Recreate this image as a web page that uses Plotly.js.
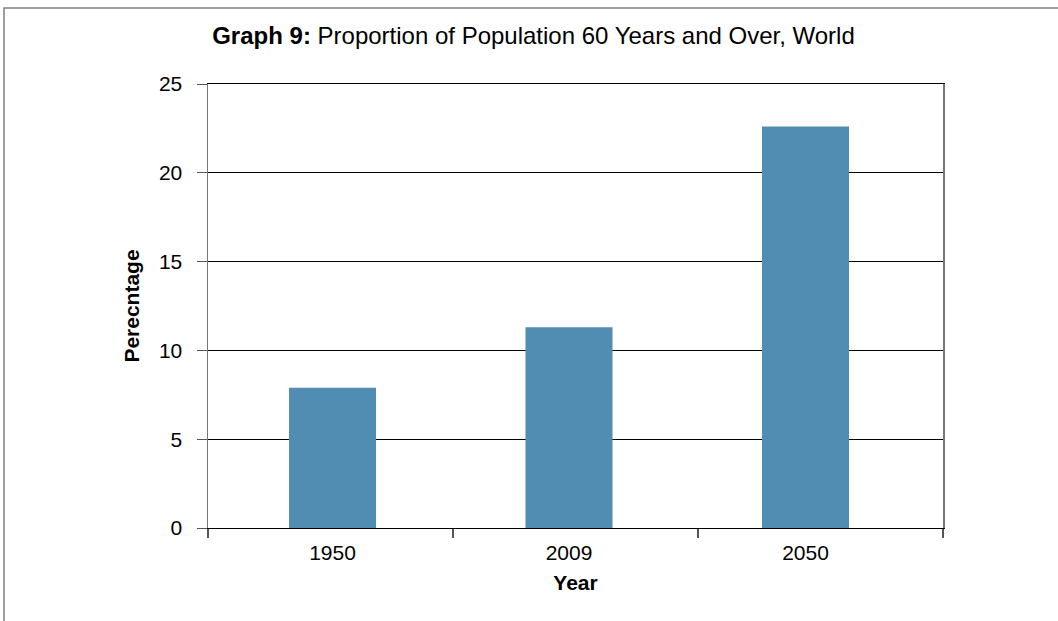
<!DOCTYPE html>
<html>
<head>
<meta charset="utf-8">
<script src="https://cdn.plot.ly/plotly-3.0.1.min.js"></script>
<style>
  html, body { margin: 0; padding: 0; background: #fff; }
  #chart { width: 1058px; height: 621px; }
</style>
</head>
<body>
<div id="chart"></div>
<script>
const years = ['1950', '2009', '2050'];
const percentages = [7.9, 11.3, 22.6];
const yTicks = [0, 5, 10, 15, 20, 25];

const font = 'Arial, "Liberation Sans", sans-serif';

const bars = {
  type: 'bar',
  x: years,
  y: percentages,
  width: 0.368,
  marker: { color: '#518db3', line: { width: 0 } },
  hoverinfo: 'x+y',
  xaxis: 'x',
  yaxis: 'y'
};

// invisible copy on a second category axis that carries the boundary tick marks
const tickCarrier = {
  type: 'bar',
  x: years,
  y: percentages,
  marker: { color: 'rgba(0,0,0,0)' },
  hoverinfo: 'skip',
  xaxis: 'x2',
  yaxis: 'y'
};

const layout = {
  width: 1058,
  height: 621,
  margin: { l: 208, r: 115, t: 84, b: 93, pad: 0 },
  paper_bgcolor: '#ffffff',
  plot_bgcolor: '#ffffff',
  font: { family: font, size: 21, color: '#000' },
  showlegend: false,
  barmode: 'overlay',
  title: {
    text: '<b>Graph 9:</b> Proportion of Population 60 Years and Over, World',
    font: { family: font, size: 24, color: '#000' },
    xref: 'paper',
    x: (533.5 - 208) / 735,
    xanchor: 'center',
    yref: 'container',
    y: 1 - 36 / 621,
    yanchor: 'middle'
  },
  xaxis: {
    type: 'category',
    range: [-0.5264, 2.5814],
    showgrid: false,
    showline: true,
    linecolor: '#000',
    linewidth: 1,
    mirror: true,
    ticks: '',
    ticklabelstandoff: 6,
    tickfont: { family: font, size: 21, color: '#000' },
    title: { text: '<b>Year</b>', font: { family: font, size: 21, color: '#000' }, standoff: 12 }
  },
  xaxis2: {
    type: 'category',
    overlaying: 'x',
    side: 'bottom',
    anchor: 'y',
    range: [-0.5, 2.5],
    showgrid: false,
    showline: false,
    zeroline: false,
    showticklabels: false,
    ticks: 'outside',
    tickson: 'boundaries',
    ticklen: 9,
    tickcolor: '#555',
    tickwidth: 1.2
  },
  yaxis: {
    range: [0, 25],
    tickvals: yTicks,
    ticktext: yTicks.map(String),
    showgrid: true,
    gridcolor: '#000',
    gridwidth: 1,
    zeroline: false,
    showline: true,
    linecolor: '#777',
    linewidth: 1.5,
    mirror: true,
    ticks: 'outside',
    ticklen: 10,
    tickcolor: '#555',
    tickwidth: 1,
    ticklabelstandoff: 10,
    tickfont: { family: font, size: 21, color: '#000' },
    title: { text: '<b>Perecntage</b>', font: { family: font, size: 21, color: '#000' }, standoff: 13 }
  },
  shapes: [
    {
      type: 'rect', xref: 'paper', yref: 'paper',
      x0: (4 - 208) / 735, x1: 1.5,
      y0: -0.5, y1: (528 - 8) / 444,
      line: { color: '#808080', width: 1.5 },
      fillcolor: 'rgba(0,0,0,0)',
      layer: 'below'
    }
  ]
};

Plotly.newPlot('chart', [bars, tickCarrier], layout, { displayModeBar: false, staticPlot: true });
</script>
</body>
</html>
